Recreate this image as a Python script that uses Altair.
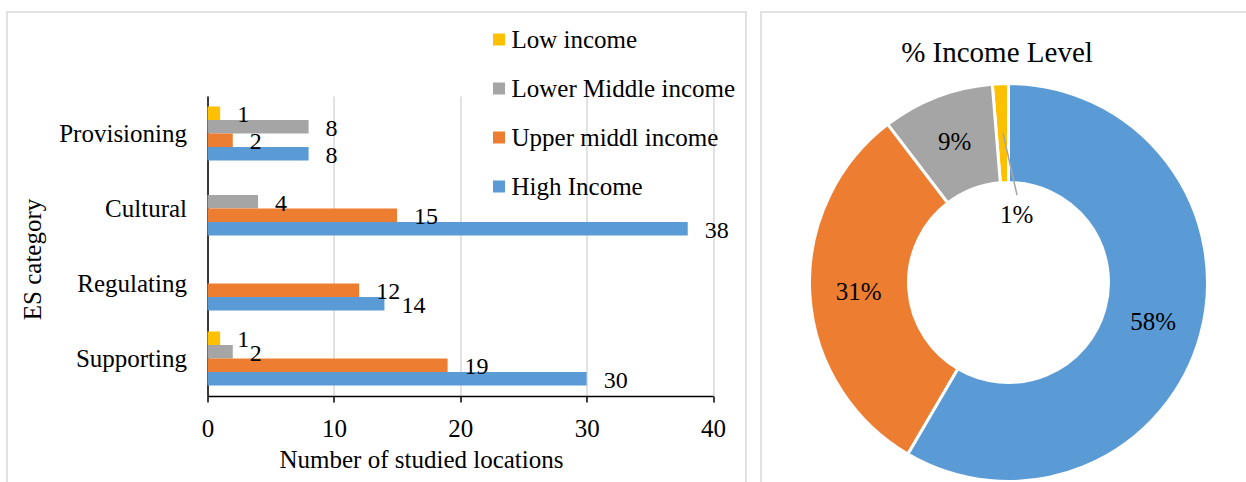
import json
import altair as alt
import pandas as pd

# ---------------- data ----------------
categories = ["Provisioning", "Cultural", "Regulating", "Supporting"]
series = ["Low income", "Lower Middle income", "Upper middl income", "High Income"]
low_income = [1, 0, 0, 1]
lower_middle = [8, 4, 0, 2]
upper_middle = [2, 15, 12, 19]
high_income = [8, 38, 14, 30]
x_ticks = [0, 10, 20, 30, 40]
colors = ["#FFC000", "#A5A5A5", "#ED7D31", "#5B9BD5"]
donut_order = ["High Income", "Upper middl income", "Lower Middle income", "Low income"]
donut_title = "% Income Level"

rows = []
for s, vals in zip(series, [low_income, lower_middle, upper_middle, high_income]):
    for c, v in zip(categories, vals):
        rows.append({"category": c, "income": s, "value": v})
df = pd.DataFrame(rows)

FONT = "Liberation Serif"
BLACK = "#000000"
GRID = "#D9D9D9"

# view origin = bar plot area's top-left corner (207.5, 96) on the page
CX, CY = 801, 186.5  # donut centre relative to view

color = alt.Color(
    "income:N",
    scale=alt.Scale(domain=series, range=colors),
    legend=alt.Legend(
        title=None, orient="none", legendX=279, legendY=-69, padding=0,
        symbolType="square", symbolSize=144, symbolStrokeWidth=0,
        labelFont=FONT, labelFontSize=25, labelColor=BLACK, labelLimit=500,
        rowPadding=23, labelOffset=0, direction="vertical",
    ),
)

y_enc = alt.Y(
    "category:N", sort=categories,
    scale=alt.Scale(domain=categories, paddingInner=0.28, paddingOuter=0.14),
    axis=alt.Axis(
        title="ES category", titleFont=FONT, titleFontSize=25, titleFontWeight="normal",
        titleColor=BLACK, titleAngle=270, titleX=-167.5, titleY=163,
        titleBaseline="alphabetic", titleAlign="center",
        labelFont=FONT, labelFontSize=25, labelColor=BLACK, labelPadding=21,
        ticks=False, domainColor=BLACK, domainWidth=1.5, grid=False,
    ),
)
yoff_enc = alt.YOffset("income:N", scale=alt.Scale(domain=series, paddingInner=0, paddingOuter=0))

x_enc = alt.X(
    "value:Q", scale=alt.Scale(domain=[0, 40], nice=False),
    axis=alt.Axis(
        values=x_ticks, format="d", title="Number of studied locations",
        titleFont=FONT, titleFontSize=25, titleFontWeight="normal", titleColor=BLACK,
        titleX=213.5, titleY=71, titleBaseline="alphabetic", titleAlign="center",
        labelFont=FONT, labelFontSize=25, labelColor=BLACK, labelPadding=14, labelFlush=False,
        tickSize=6, tickColor=BLACK, tickWidth=1.5, domainColor=BLACK, domainWidth=1.5,
        grid=True, gridColor=GRID, gridWidth=1.5,
    ),
)

bars = alt.Chart(df).mark_bar().encode(x=x_enc, y=y_enc, yOffset=yoff_enc, color=color)

bar_labels = alt.Chart(df).transform_filter("datum.value > 0").mark_text(
    align="left", baseline="middle", dx=17, dy=2, font=FONT, fontSize=24, color=BLACK
).encode(
    x=alt.X("value:Q"), y=alt.Y("category:N", sort=categories), yOffset=yoff_enc,
    text=alt.Text("value:Q", format="d"),
)

# ---------------- donut ----------------
donut_base = (
    alt.Chart(df)
    .transform_aggregate(total="sum(value)", groupby=["income"])
    .transform_calculate(rank=f"indexof({json.dumps(donut_order)}, datum.income)")
    .transform_joinaggregate(grand="sum(total)")
    .transform_calculate(pct="datum.total / datum.grand")
    .transform_calculate(
        main_label="datum.income == 'Low income' ? '' : format(datum.pct, '.0%')",
        small_label="datum.income == 'Low income' ? format(datum.pct, '.0%') : ''",
    )
)
theta_enc = alt.Theta("total:Q", stack=True)
order_enc = alt.Order("rank:Q", sort="ascending")

arcs = donut_base.mark_arc(outerRadius=199, innerRadius=100, stroke="white", strokeWidth=3).encode(
    theta=theta_enc, order=order_enc, color=color, x=alt.value(CX), y=alt.value(CY)
)
arc_labels = donut_base.mark_text(radius=150, font=FONT, fontSize=25, color=BLACK).encode(
    theta=theta_enc, order=order_enc, text="main_label:N", x=alt.value(CX), y=alt.value(CY)
)
arc_small = donut_base.mark_text(radius=68, dx=11, font=FONT, fontSize=25, color=BLACK).encode(
    theta=theta_enc, order=order_enc, text="small_label:N", x=alt.value(CX), y=alt.value(CY)
)

one = pd.DataFrame({"t": [donut_title]})
leader = alt.Chart(one).mark_rule(color="#A5A5A5", strokeWidth=1.5).encode(
    x=alt.value(795.5), x2=alt.value(809.5), y=alt.value(37), y2=alt.value(99)
)
title_txt = alt.Chart(one).mark_text(font=FONT, fontSize=29, color=BLACK, baseline="middle").encode(
    text="t:N", x=alt.value(789.5), y=alt.value(-43)
)
border_left = alt.Chart(one).mark_rect(fillOpacity=0, stroke=GRID, strokeWidth=1.5).encode(
    x=alt.value(-200.5), x2=alt.value(538.5), y=alt.value(-84), y2=alt.value(400)
)
border_right = alt.Chart(one).mark_rect(fillOpacity=0, stroke=GRID, strokeWidth=1.5).encode(
    x=alt.value(553.5), x2=alt.value(1060), y=alt.value(-84), y2=alt.value(400)
)

chart = (
    alt.layer(border_left, border_right, bars, bar_labels, arcs, arc_labels, arc_small, leader, title_txt)
    .properties(
        width=505.5, height=300,
        padding={"left": 207.5, "top": 96, "right": 533, "bottom": 86},
        autosize=alt.AutoSizeParams(type="none"),
        background="white",
    )
    .configure_view(strokeWidth=0)
)

chart.save("out.html", embed_options={"renderer": "svg", "actions": False})
